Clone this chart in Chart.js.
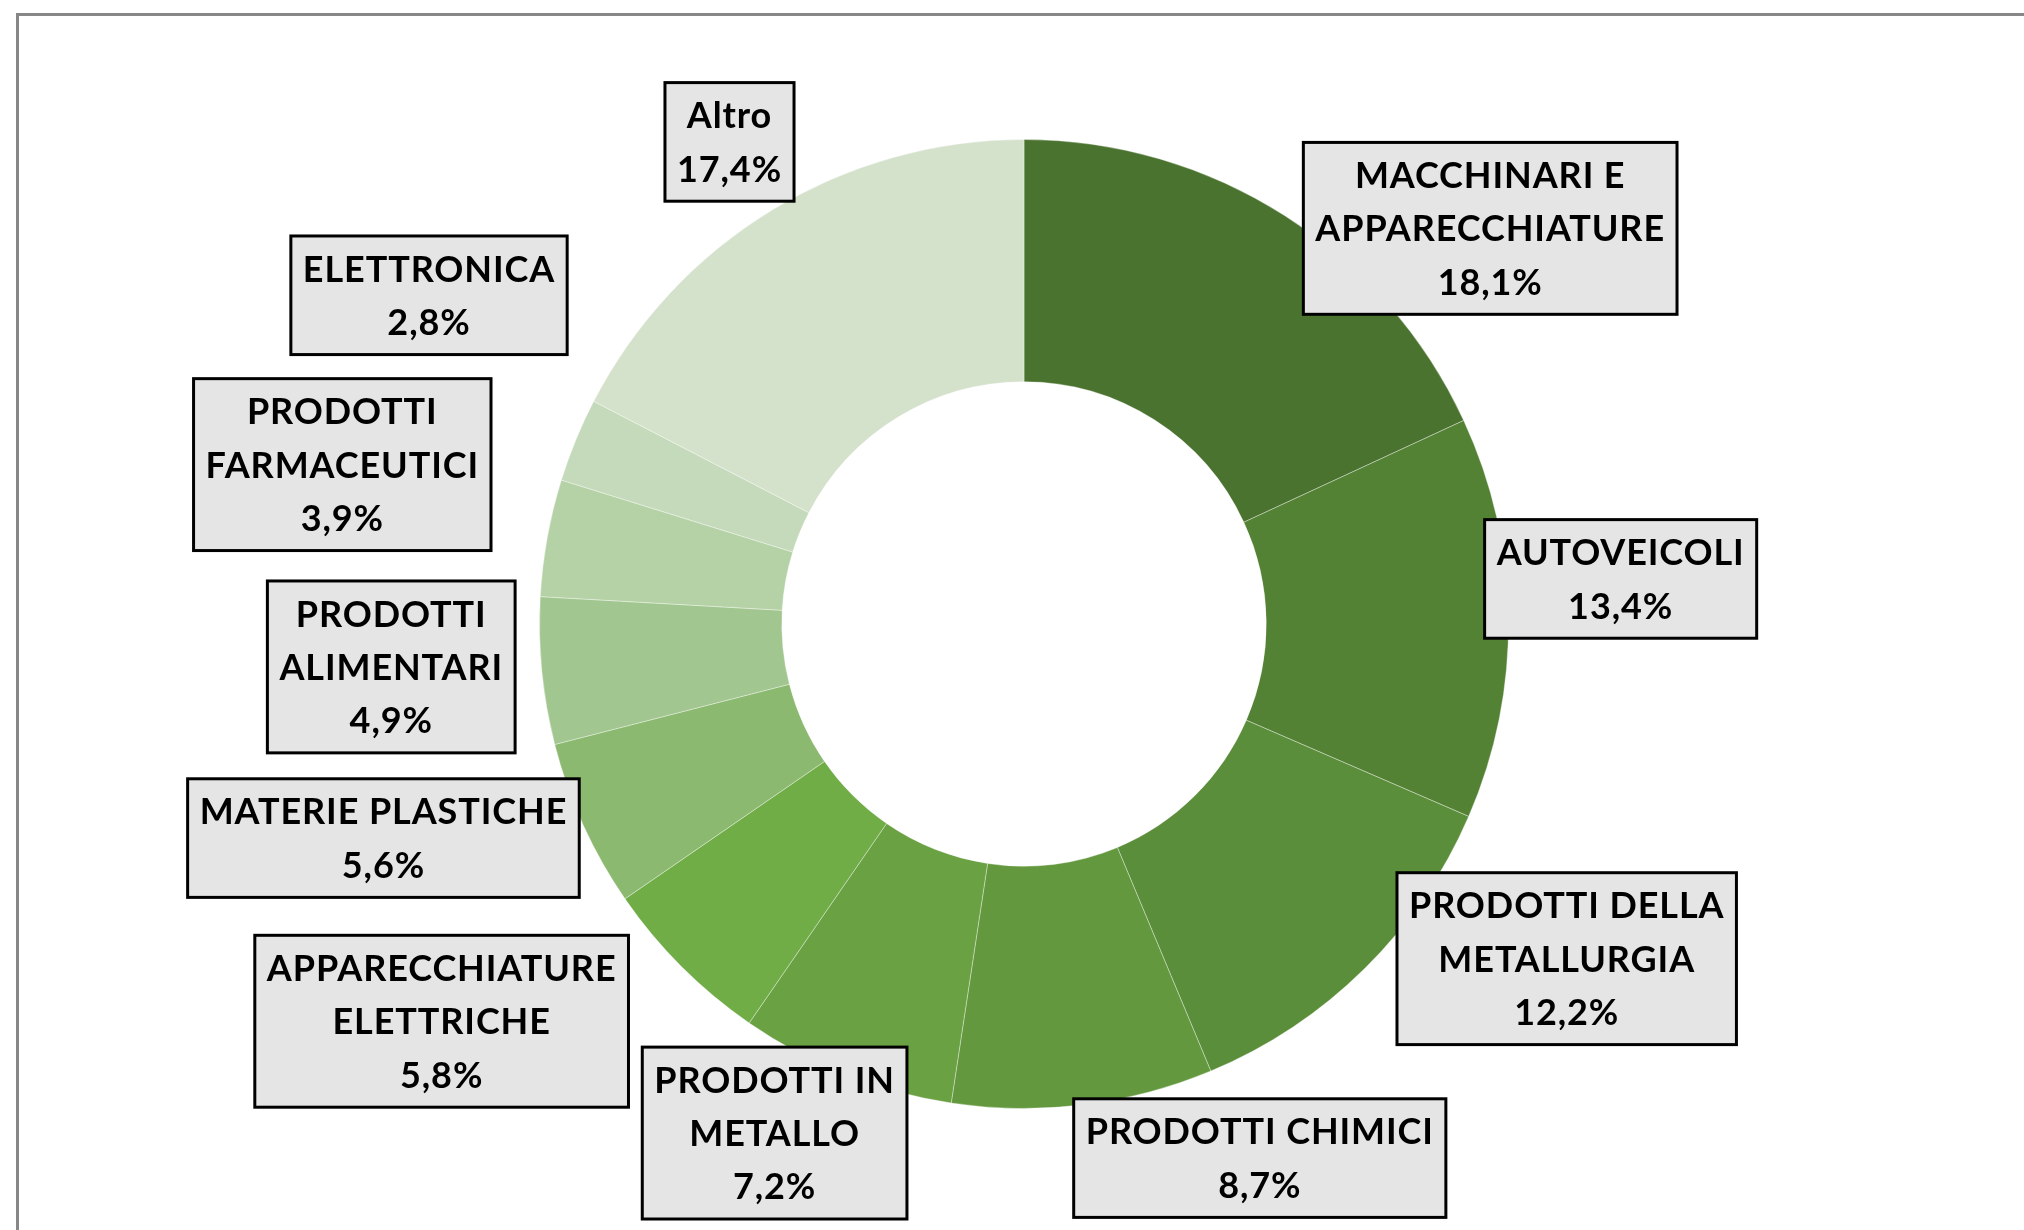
<!DOCTYPE html>
<html>
<head>
<meta charset="utf-8">
<script src="https://cdn.jsdelivr.net/npm/chart.js@4.4.0/dist/chart.umd.min.js"></script>
<style>
    body { margin: 0; background: #fff; overflow: hidden; }
    .frame {
        position: absolute; left: 16px; top: 13px;
        width: 2100px; height: 1300px;
        border-left: 3px solid #878787; border-top: 3px solid #878787;
    }
    #chart { position: absolute; left: 0; top: 0; }
</style>
</head>
<body>
<div class="frame"></div>
<canvas id="chart" width="2024" height="1230"></canvas>
<script>
// sectors, clockwise from the top
var categories = [
    ["MACCHINARI E", "APPARECCHIATURE"],
    ["AUTOVEICOLI"],
    ["PRODOTTI DELLA", "METALLURGIA"],
    ["PRODOTTI CHIMICI"],
    ["PRODOTTI IN", "METALLO"],
    ["APPARECCHIATURE", "ELETTRICHE"],
    ["MATERIE PLASTICHE"],
    ["PRODOTTI", "ALIMENTARI"],
    ["PRODOTTI", "FARMACEUTICI"],
    ["ELETTRONICA"],
    ["Altro"]
];
var shares = [18.1, 13.4, 12.2, 8.7, 7.2, 5.8, 5.6, 4.9, 3.9, 2.8, 17.4];

var colors = ["#4b7330", "#548235", "#5b8e3a", "#63983f", "#69a143", "#70ad47",
    "#8cb970", "#a2c68f", "#b5d1a6", "#c5dabb", "#d4e1cb"];

// where each label box sits: turn from the slice middle (deg) and distance (x outer radius)
var labelTurn = [17.1, -3.6, -13.7, -16.8, 4.5, 10.7, 6.0, 1.7, 2.9, 6.6, -0.1];
var labelDist = [1.262, 1.235, 1.316, 1.205, 1.170, 1.455, 1.394, 1.309, 1.445, 1.403, 1.166];

var boxLabels = {
    id: 'boxLabels',
    afterDatasetsDraw: function (chart) {
        var ctx = chart.ctx;
        var arcs = chart.getDatasetMeta(0).data;
        var lineH = 53.3;
        ctx.save();
        ctx.font = 'bold 36px Lato';
        ctx.letterSpacing = '0.9px';
        ctx.textAlign = 'center';
        ctx.textBaseline = 'alphabetic';
        arcs.forEach(function (arc, i) {
            var p = arc.getProps(['x', 'y', 'startAngle', 'endAngle', 'outerRadius'], true);
            var mid = (p.startAngle + p.endAngle) / 2 + labelTurn[i] * Math.PI / 180;
            var cx = p.x + Math.cos(mid) * p.outerRadius * labelDist[i];
            var cy = p.y + Math.sin(mid) * p.outerRadius * labelDist[i];
            var lines = categories[i].concat([shares[i].toFixed(1).replace('.', ',') + '%']);
            var w = 0;
            lines.forEach(function (t) { w = Math.max(w, ctx.measureText(t).width); });
            w += 24;
            var h = lines.length * lineH + 12;
            ctx.fillStyle = '#e5e5e5';
            ctx.fillRect(cx - w / 2, cy - h / 2, w, h);
            ctx.lineWidth = 3;
            ctx.strokeStyle = '#000';
            ctx.strokeRect(cx - w / 2, cy - h / 2, w, h);
            ctx.fillStyle = '#000';
            lines.forEach(function (t, j) {
                ctx.fillText(t, cx, cy + (j - (lines.length - 1) / 2) * lineH + 13);
            });
        });
        ctx.restore();
    }
};

var ctx = document.getElementById('chart').getContext('2d');
var chart = new Chart(ctx, {
    type: 'doughnut',
    data: {
        labels: categories,
        datasets: [{
            data: shares,
            backgroundColor: colors,
            borderColor: 'rgba(255,255,255,0.35)',
            borderWidth: 1
        }]
    },
    options: {
        responsive: false,
        devicePixelRatio: 1,
        animation: false,
        cutout: '50%',
        layout: { padding: { left: 539, right: 515, top: 139, bottom: 121 } },
        plugins: {
            legend: { display: false },
            tooltip: { enabled: false }
        }
    },
    plugins: [boxLabels]
});
</script>
</body>
</html>
